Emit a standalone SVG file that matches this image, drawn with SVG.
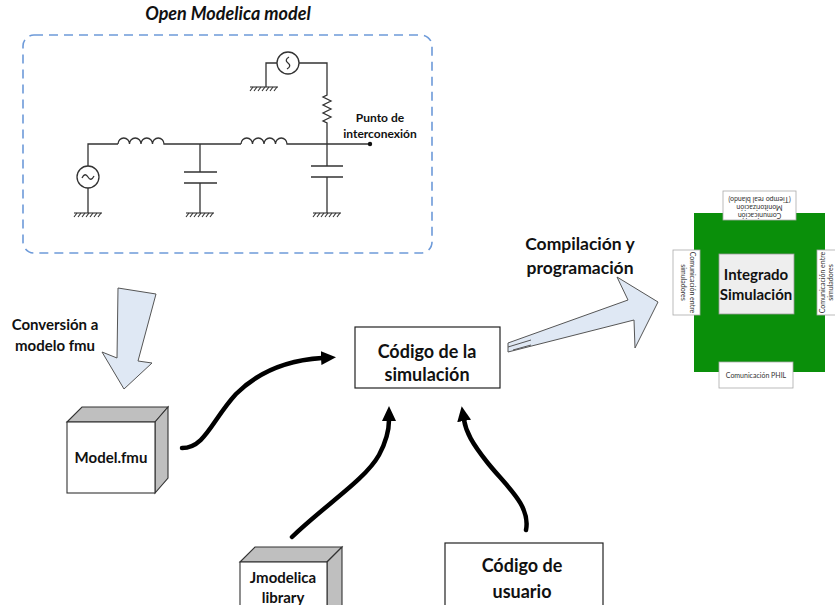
<svg xmlns="http://www.w3.org/2000/svg" width="835" height="605" viewBox="0 0 835 605">
  <style>
    .t { font-family: Lato, "Open Sans", "Liberation Sans", sans-serif; font-weight: bold; fill: #111; text-anchor: middle; }
    .tiny { font-family: Lato, "Open Sans", "Liberation Sans", sans-serif; font-size: 7px; fill: #333; text-anchor: middle; }
    .w { fill: none; stroke: #333; stroke-width: 1.3; }
    .gnd { fill: none; stroke: #333; stroke-width: 1.1; }
    .box { fill: #fff; stroke: #222; stroke-width: 1.2; }
    .label { fill: #fff; stroke: #aaa; stroke-width: 0.8; }
    .cube-front { fill: #fff; stroke: #333; stroke-width: 1.1; }
    .cube-side { fill: #bfbfbf; stroke: #333; stroke-width: 1.1; }
    .block { fill: #dfe8f4; stroke: #555; stroke-width: 1; stroke-linejoin: miter; }
    .curve { fill: none; stroke: #000; stroke-width: 4.5; stroke-linecap: round; }
  </style>
  <defs>
    <marker id="head" markerUnits="userSpaceOnUse" viewBox="0 0 15 14" refX="1" refY="7" markerWidth="15" markerHeight="14" orient="auto">
      <path d="M0,0 L15,7 L0,14 Z" fill="#000"/>
    </marker>
    <!-- ground symbol: bar with slanted hatch -->
    <g id="ground">
      <line x1="-14" y1="0" x2="14" y2="0" class="gnd"/>
      <path class="gnd" d="M-11,0 l-3,4 M-7,0 l-3,4 M-3,0 l-3,4 M1,0 l-3,4 M5,0 l-3,4 M9,0 l-3,4 M13,0 l-3,4"/>
    </g>
  </defs>

  <!-- Open Modelica model container -->
  <g id="openmodelica">
    <text class="t" x="228" y="20" font-size="18" font-style="italic">Open Modelica model</text>
    <rect x="23" y="35" width="409" height="218" rx="11" fill="none" stroke="#6d9ad9" stroke-width="1.6" stroke-dasharray="9 6"/>

    <!-- circuit -->
    <g id="circuit">
      <!-- left AC source -->
      <path class="w" d="M88,213 V188 M88,166 V144 H118"/>
      <circle class="w" cx="88" cy="177" r="11" fill="#fff"/>
      <path class="w" d="M82,178 q3,-6 6,-1 q3,5 6,-1"/>
      <use href="#ground" x="88" y="213"/>

      <!-- inductor 1 -->
      <path class="w" d="M118,144 a5.75,6 0 0 1 11.5,0 a5.75,6 0 0 1 11.5,0 a5.75,6 0 0 1 11.5,0 a5.75,6 0 0 1 11.5,0 H241"/>

      <!-- shunt capacitor 1 -->
      <path class="w" d="M200,144 V172 M184,172 H217 M184,183 H217 M200,183 V213"/>
      <use href="#ground" x="200" y="213"/>

      <!-- inductor 2 -->
      <path class="w" d="M241,144 a5.75,6 0 0 1 11.5,0 a5.75,6 0 0 1 11.5,0 a5.75,6 0 0 1 11.5,0 a5.75,6 0 0 1 11.5,0 H370"/>

      <!-- shunt capacitor 2 -->
      <path class="w" d="M327,144 V166 M311,166 H343 M311,177 H343 M327,177 V213"/>
      <use href="#ground" x="327" y="213"/>

      <!-- resistor and upper source -->
      <path class="w" d="M327,144 V123 l-4,-2 l8,-4 l-8,-4 l8,-4 l-8,-4 l8,-4 l-8,-4 l4,-2 V63 H299"/>
      <circle class="w" cx="288" cy="63" r="11" fill="#fff"/>
      <path class="w" d="M289,57 q-5,3 -1,6 q4,3 -1,6"/>
      <path class="w" d="M277,63 H266 V87"/>
      <use href="#ground" x="264" y="87"/>

      <!-- interconnection point -->
      <circle cx="370" cy="144" r="2.2" fill="#111"/>
      <text class="t" x="380" y="122" font-size="12">Punto de</text>
      <text class="t" x="380" y="138" font-size="12">interconexión</text>
    </g>
  </g>

  <!-- conversion block arrow -->
  <g id="conversion">
    <path class="block" d="M118,288 L156,294 L138,361 L152,363 L124,389 L102,352 L117,358 Z"/>
    <text class="t" x="55" y="330" font-size="15">Conversión a</text>
    <text class="t" x="55" y="351" font-size="15">modelo fmu</text>
  </g>

  <!-- Model.fmu cube -->
  <g id="modelfmu">
    <path class="cube-side" d="M67,422 L82,407 L168,407 L155,422 Z"/>
    <path class="cube-side" d="M155,422 L168,407 L168,478 L155,493 Z"/>
    <rect class="cube-front" x="67" y="422" width="88" height="71"/>
    <text class="t" x="111" y="463" font-size="15">Model.fmu</text>
  </g>

  <!-- simulation code -->
  <g id="codigo-simulacion">
    <rect class="box" x="355" y="327" width="145" height="61"/>
    <text class="t" x="427" y="358" font-size="18">Código de la</text>
    <text class="t" x="427" y="381" font-size="18">simulación</text>
  </g>

  <!-- compilation block arrow -->
  <g id="compilacion">
    <path class="block" d="M508,343 L628,300 L617,277 L658,302 L635,348 L634,320 L508,352 Z"/>
    <path d="M508,347 L531,340 M513,350 L531,345" stroke="#555" stroke-width="1" fill="none"/>
    <text class="t" x="580" y="250" font-size="17.5">Compilación y</text>
    <text class="t" x="580" y="274" font-size="17.5">programación</text>
  </g>

  <!-- integrated simulation board -->
  <g id="integrado">
    <rect x="694" y="213" width="131" height="159" fill="#0a8f0a"/>
    <rect x="719" y="254" width="75" height="60" fill="#eeeeee" stroke="#999" stroke-width="0.8"/>
    <text class="t" x="756" y="280" font-size="15">Integrado</text>
    <text class="t" x="756" y="300" font-size="15">Simulación</text>

    <!-- top label (upside down) -->
    <rect class="label" x="723" y="191" width="73" height="29"/>
    <g transform="rotate(180 759.5 205.5)">
      <text class="tiny" x="759.5" y="198">Comunicación</text>
      <text class="tiny" x="759.5" y="206">Monitorización</text>
      <text class="tiny" x="759.5" y="214">(Tiempo real blando)</text>
    </g>

    <!-- left label -->
    <rect class="label" x="673" y="250" width="27" height="65"/>
    <g transform="rotate(90 686.5 282.5)">
      <text class="tiny" x="686.5" y="279">Comunicación entre</text>
      <text class="tiny" x="686.5" y="288">simuladores</text>
    </g>

    <!-- right label -->
    <rect class="label" x="817" y="250" width="27" height="65"/>
    <g transform="rotate(-90 828 282.5)">
      <text class="tiny" x="828" y="279">Comunicación entre</text>
      <text class="tiny" x="828" y="287.5">simuladores</text>
    </g>

    <!-- bottom label -->
    <rect class="label" x="719" y="362" width="74" height="26"/>
    <text class="tiny" x="756" y="378">Comunicación PHIL</text>
  </g>

  <!-- Jmodelica library cube -->
  <g id="jmodelica">
    <path class="cube-side" d="M240,562 L255,547 L342,547 L327,562 Z"/>
    <path class="cube-side" d="M327,562 L342,547 L342,620 L327,635 Z"/>
    <rect class="cube-front" x="240" y="562" width="87" height="60"/>
    <text class="t" x="283" y="583" font-size="15">Jmodelica</text>
    <text class="t" x="283" y="603" font-size="15">library</text>
  </g>

  <!-- user code -->
  <g id="codigo-usuario">
    <rect class="box" x="445" y="543" width="158" height="70"/>
    <text class="t" x="522" y="572" font-size="18">Código de</text>
    <text class="t" x="522" y="598" font-size="18">usuario</text>
  </g>

  <!-- connectors -->
  <g id="connectors">
    <path class="curve" marker-end="url(#head)" d="M182,448 C205,448 212,420 236,394 C260,370 290,360 322,358"/>
    <path class="curve" marker-end="url(#head)" d="M292,537 C325,505 365,480 379,455 C387,440 389,430 389,420"/>
    <path class="curve" marker-end="url(#head)" d="M526,530 C531,505 505,485 487,462 C472,443 466,432 464,420"/>
  </g>
</svg>
